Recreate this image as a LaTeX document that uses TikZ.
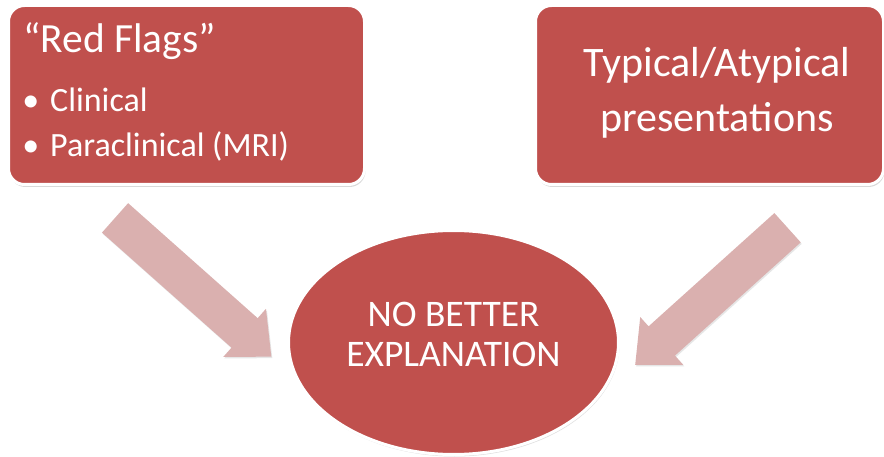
\documentclass[tikz,border=0pt]{standalone}
\usepackage{fontspec}
\setmainfont{Carlito}
\usetikzlibrary{shapes.geometric,shapes.arrows,shadows}

\definecolor{boxred}{RGB}{192,80,77}
\definecolor{arrowpink}{RGB}{218,176,175}

\tikzset{
  redbox/.style={rectangle, rounded corners=16pt, draw=white, line width=3pt,
    fill=boxred, inner sep=0pt,
    drop shadow={opacity=0.3, shadow xshift=1pt, shadow yshift=-2.5pt}},
  goal/.style={ellipse, draw=white, line width=3pt, fill=boxred, inner sep=0pt,
    drop shadow={opacity=0.25, shadow xshift=1pt, shadow yshift=-2pt}},
  flowarrow/.style={single arrow, fill=arrowpink, inner xsep=0pt, inner ysep=19.5pt,
    single arrow head extend=12.5pt, single arrow tip angle=84,
    drop shadow={opacity=0.2, shadow xshift=1pt, shadow yshift=-1.5pt}},
  boxtext/.style={text=white, inner sep=0pt}
}

\begin{document}
\begin{tikzpicture}[x=1pt,y=-1pt]
  \useasboundingbox (0,0) rectangle (884,457);

  % block arrows towards the ellipse
  \node[flowarrow, minimum height=209pt, rotate=-41.6] (arrleft) at (185,280) {};
  \node[flowarrow, minimum height=205pt, rotate=-138] (arrright) at (719.5,289) {};

  % boxes at the top
  \node[redbox, minimum width=356pt, minimum height=179pt] (flags) at (186.5,95) {};
  \node[redbox, minimum width=348pt, minimum height=179pt] (typical) at (709.5,95) {};

  \node[boxtext, anchor=base west, font=\fontsize{41.5}{48}\selectfont] (flagstitle) at (23,53) {“Red Flags”};
  \node[boxtext, anchor=base west, font=\fontsize{34}{40}\selectfont] (clinical) at (50,112)
    {\llap{\textbullet\hspace{11pt}}Clinical};
  \node[boxtext, anchor=base west, font=\fontsize{34}{40}\selectfont] (paraclinical) at (50,157)
    {\llap{\textbullet\hspace{11pt}}Paraclinical (MRI)};

  \node[boxtext, align=center, font=\fontsize{42}{55}\selectfont] (typicaltext) at (717,93)
    {Typical/Atypical\\presentations};

  % the ellipse
  \node[goal, minimum width=330pt, minimum height=224pt] (nbe) at (453.5,342.5) {};
  \node[boxtext, align=center, font=\fontsize{37.5}{40}\selectfont] (nbetext) at (453.5,334.5)
    {NO BETTER\\EXPLANATION};
\end{tikzpicture}
\end{document}
